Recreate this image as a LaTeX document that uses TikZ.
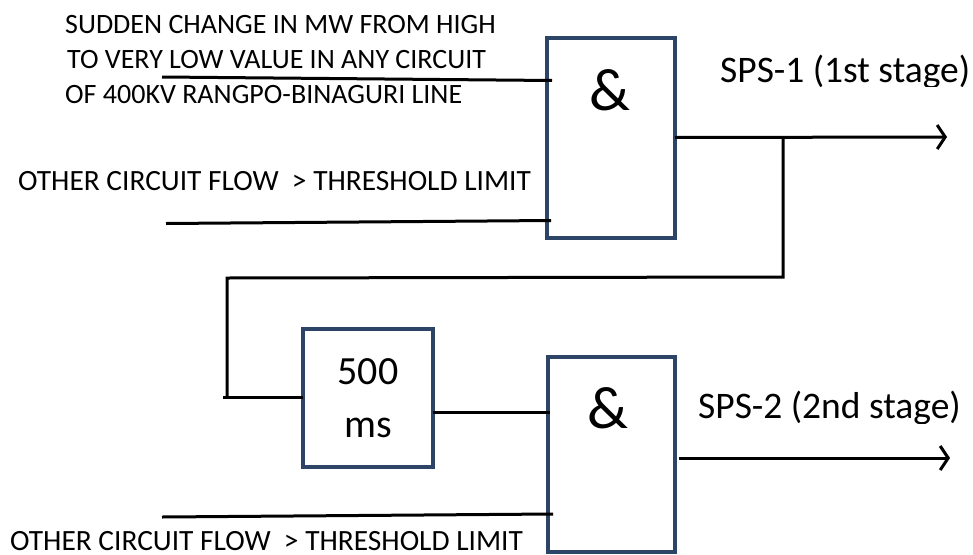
\documentclass[tikz,border=0pt]{standalone}
\usepackage{fontspec}
\setmainfont{Carlito}
\usetikzlibrary{arrows.meta,calc}
\definecolor{boxblue}{RGB}{44,68,102}
\begin{document}
\begin{tikzpicture}[x=1pt,y=-1pt,
  gate/.style={draw=boxblue,line width=4pt,fill=white,rectangle,inner sep=0pt,outer sep=0pt},
  wire/.style={draw=black,line width=3pt},
  arrowwire/.style={wire,-{Straight Barb[length=8pt,width=24pt,line width=3pt]}},
  smalltext/.style={inner sep=0pt,font=\fontsize{28}{35}\selectfont},
  flowtext/.style={inner sep=0pt,font=\fontsize{29.4}{35}\selectfont},
  spstext/.style={inner sep=0pt,font=\fontsize{37.5}{44}\selectfont},
  amptext/.style={inner sep=0pt,font=\fontsize{60}{70}\selectfont}]
\useasboundingbox (0,0) rectangle (973,554);
% boxes
\node[gate,minimum width=128.5pt,minimum height=200pt] (g1) at (610.75,137.5) {};
\node[gate,minimum width=126.5pt,minimum height=195.5pt] (g2) at (611.25,454.25) {};
\node[gate,minimum width=130pt,minimum height=137.5pt,align=center,font=\fontsize{40}{53}\selectfont] (d) at (368,397.75) {500\\ms};
\node[amptext,anchor=base] (amp1) at (610,110) {\&};
\node[amptext,anchor=base] (amp2) at (608,428) {\&};
% texts
\node[smalltext,anchor=base west] (t1a) at (65,33) {SUDDEN CHANGE IN MW FROM HIGH};
\node[smalltext,anchor=base west] (t1b) at (67,68) {TO VERY LOW VALUE IN ANY CIRCUIT};
\node[smalltext,anchor=base west] (t1c) at (65,103) {OF 400KV RANGPO-BINAGURI LINE};
\node[flowtext,anchor=base west] (t2) at (18,190) {OTHER CIRCUIT FLOW\ \ > THRESHOLD LIMIT};
\node[flowtext,anchor=base west] (t3) at (10,550.5) {OTHER CIRCUIT FLOW\ \ > THRESHOLD LIMIT};
\begin{scope}
  \clip (690,30) rectangle (973,86);
  \node[spstext,anchor=base west] (s1) at (720,82) {SPS-1 (1st stage)};
\end{scope}
\begin{scope}
  \clip (680,370) rectangle (973,423);
  \node[spstext,anchor=base west] (s2) at (698,418) {SPS-2 (2nd stage)};
\end{scope}
% free ends
\coordinate (in1) at (162,77);
\coordinate (in2) at (166,223.5);
\coordinate (in3) at (162,517);
\coordinate (o1) at (947,137);
\coordinate (o2) at (950,458);
\coordinate (b0) at (783,137);
\coordinate (b1) at (783,277);
\coordinate (b2) at (227,278);
\coordinate (b3) at (227,397.75);
\coordinate (b4) at (223,397.75);
% connectors
\draw[wire] (in1) -- ($(g1.north west)+(5.5,43)$);
\draw[wire] (in2) -- ($(g1.north west)+(4.5,183)$);
\draw[arrowwire] (g1.east) -- (o1);
\draw[wire] (b0) -- (b1) -- (b2) -- (b3);
\draw[wire] (b4) -- (d.west);
\draw[wire] ($(d.north east)+(0,83)$) -- ($(g2.north west)+(2,55.5)$);
\draw[wire] (in3) -- ($(g2.north west)+(5,157.5)$);
\draw[arrowwire] ($(g2.north east)+(4,101.5)$) -- (o2);
\end{tikzpicture}
\end{document}
